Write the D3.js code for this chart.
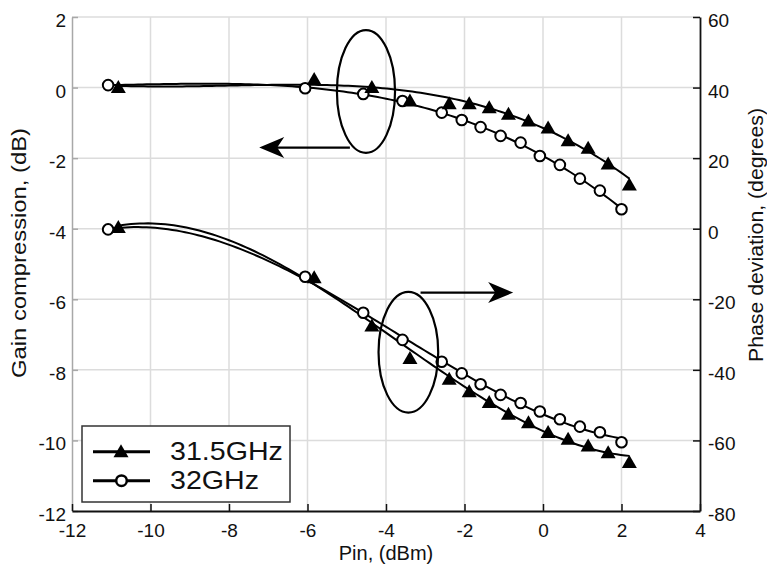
<!DOCTYPE html>
<html>
<head>
<meta charset="utf-8">
<script src="https://cdn.jsdelivr.net/npm/d3@7/dist/d3.min.js"></script>
<style>
  html, body { margin: 0; padding: 0; background: #fff; }
  svg { display: block; font-family: "Liberation Sans", Arial, sans-serif; }
</style>
</head>
<body>
<svg id="chart" width="767" height="566"></svg>
<script>
// Input power sweep (dBm) and measured responses
const pin315 = [-10.82, -5.83, -4.36, -3.39, -2.39, -1.88, -1.37, -0.88, -0.37, 0.13, 0.64, 1.15, 1.66, 2.2];
const gain315 = [0.03, 0.26, 0.03, -0.35, -0.43, -0.43, -0.54, -0.73, -0.92, -1.12, -1.48, -1.69, -2.14, -2.73];
const phase315 = [0.6, -13.6, -27.3, -36.5, -42.4, -45.9, -49.0, -52.3, -54.7, -57.5, -59.4, -61.3, -63.2, -66.0];

const pin32 = [-11.08, -6.06, -4.58, -3.58, -2.58, -2.07, -1.59, -1.08, -0.57, -0.08, 0.43, 0.94, 1.45, 2.0];
const gain32 = [0.07, -0.02, -0.18, -0.38, -0.71, -0.92, -1.12, -1.37, -1.56, -1.94, -2.19, -2.58, -2.92, -3.45];
const phase32 = [-0.2, -13.6, -23.8, -31.5, -37.7, -41.0, -44.1, -47.1, -49.4, -51.8, -54.0, -56.1, -57.7, -60.5];

const xTicks = [-12, -10, -8, -6, -4, -2, 0, 2, 4];
const gainTicks = [-12, -10, -8, -6, -4, -2, 0, 2];
const phaseTicks = [-80, -60, -40, -20, 0, 20, 40, 60];
const seriesNames = ["31.5GHz", "32GHz"];

// Annotation ellipses [x center, y center, x radius, y radius] and arrows [x from, x to, y]
const gainEllipse = [-4.51, -0.11, 0.74, 1.74];
const phaseEllipse = [-3.43, -35.0, 0.76, 17.1];
const gainArrow = [-4.92, -7.23, -1.70];
const phaseArrow = [-3.12, -0.76, -18.1];

const svg = d3.select("#chart");
const x = d3.scaleLinear().domain([-12, 4]).range([72, 700]);
const yL = d3.scaleLinear().domain([-12, 2]).range([511, 17]);
const yR = d3.scaleLinear().domain([-80, 60]).range([511, 17]);
const fmt = d => String(d);

// least-squares polynomial trend through a measured series
function polyfit(xs, ys, deg) {
  const mx = d3.mean(xs), sx = d3.deviation(xs);
  const n = deg + 1;
  const M = Array.from({length: n}, () => new Array(n + 1).fill(0));
  xs.forEach((xv, k) => {
    const u = (xv - mx) / sx;
    const pw = d3.range(n).map(p => Math.pow(u, p));
    for (let i = 0; i < n; i++) {
      for (let j = 0; j < n; j++) M[i][j] += pw[i] * pw[j];
      M[i][n] += pw[i] * ys[k];
    }
  });
  for (let c = 0; c < n; c++) {
    let piv = c;
    for (let r = c + 1; r < n; r++) if (Math.abs(M[r][c]) > Math.abs(M[piv][c])) piv = r;
    [M[c], M[piv]] = [M[piv], M[c]];
    for (let r = 0; r < n; r++) {
      if (r === c) continue;
      const f = M[r][c] / M[c][c];
      for (let j = c; j <= n; j++) M[r][j] -= f * M[c][j];
    }
  }
  const coef = d3.range(n).map(i => M[i][n] / M[i][i]);
  return xv => {
    const u = (xv - mx) / sx;
    return coef.reduce((s, cf, p) => s + cf * Math.pow(u, p), 0);
  };
}

// grid
const grid = svg.append("g").attr("stroke", "#dcdcdc").attr("stroke-width", 1.5);
grid.selectAll("line.v").data(xTicks.filter(d => d > -12 && d < 4)).join("line")
  .attr("x1", d => x(d)).attr("x2", d => x(d)).attr("y1", yL(2)).attr("y2", yL(-12));
grid.selectAll("line.h").data(gainTicks.filter(d => d > -12)).join("line")
  .attr("x1", x(-12)).attr("x2", x(4)).attr("y1", d => yL(d)).attr("y2", d => yL(d));

// left axis (gray)
const gLeft = svg.append("g").attr("transform", `translate(${x(-12)},0)`)
  .call(d3.axisLeft(yL).tickValues(gainTicks).tickSizeInner(-6).tickSizeOuter(0).tickPadding(6).tickFormat(fmt));
gLeft.select(".domain").attr("stroke", "#a8a8a8").attr("stroke-width", 1.5);
gLeft.selectAll(".tick line").attr("stroke", "#a8a8a8").attr("stroke-width", 1.5);
gLeft.selectAll(".tick text").attr("font-size", 19).attr("fill", "#111").attr("dy", "0.5em")
  .attr("font-family", "Liberation Sans, Arial, sans-serif");

// bottom axis
const gBottom = svg.append("g").attr("transform", `translate(0,${yL(-12)})`)
  .call(d3.axisBottom(x).tickValues(xTicks).tickSizeInner(-7).tickSizeOuter(0).tickPadding(13).tickFormat(fmt));
gBottom.select(".domain").attr("stroke", "#111").attr("stroke-width", 1.8);
gBottom.selectAll(".tick line").attr("stroke", "#111").attr("stroke-width", 1.5);
gBottom.selectAll(".tick text").attr("font-size", 19).attr("fill", "#111")
  .attr("font-family", "Liberation Sans, Arial, sans-serif");

// right axis
const gRight = svg.append("g").attr("transform", `translate(${x(4)},0)`)
  .call(d3.axisRight(yR).tickValues(phaseTicks).tickSizeInner(-7).tickSizeOuter(0).tickPadding(8).tickFormat(fmt));
gRight.select(".domain").attr("stroke", "#111").attr("stroke-width", 1.8);
gRight.selectAll(".tick line").attr("stroke", "#111").attr("stroke-width", 1.5);
gRight.selectAll(".tick text").attr("font-size", 19).attr("fill", "#111").attr("dy", "0.5em")
  .attr("font-family", "Liberation Sans, Arial, sans-serif");

// axis titles
svg.append("text").attr("x", (x(-12) + x(4)) / 2).attr("y", 560).attr("text-anchor", "middle")
  .attr("font-size", 20).attr("fill", "#111").text("Pin, (dBm)");
svg.append("text").attr("transform", "translate(26,253) rotate(-90)").attr("text-anchor", "middle")
  .attr("font-size", 20).attr("fill", "#111")
  .attr("textLength", 250).attr("lengthAdjust", "spacingAndGlyphs").text("Gain compression, (dB)");
svg.append("text").attr("transform", "translate(763,235) rotate(-90)").attr("text-anchor", "middle")
  .attr("font-size", 20).attr("fill", "#111")
  .attr("textLength", 254).attr("lengthAdjust", "spacingAndGlyphs").text("Phase deviation, (degrees)");

// fitted trend curves
const curves = svg.append("g").attr("fill", "none").attr("stroke", "#000").attr("stroke-width", 2);
function trend(xs, ys, sc) {
  const f = polyfit(xs, ys, 3);
  const lo = d3.min(xs), hi = d3.max(xs);
  const pts = d3.range(0, 121).map(i => lo + (hi - lo) * i / 120);
  curves.append("path").attr("d", d3.line().x(d => x(d)).y(d => sc(f(d)))(pts));
}
trend(pin315, gain315, yL);
trend(pin32, gain32, yL);
trend(pin315, phase315, yR);
trend(pin32, phase32, yR);

// markers
const triPath = "M0,-6.5L7.5,6.5L-7.5,6.5Z";
function triangles(xs, ys, sc) {
  svg.append("g").selectAll("path").data(xs).join("path")
    .attr("d", triPath).attr("fill", "#000")
    .attr("transform", (d, i) => `translate(${x(d)},${sc(ys[i])})`);
}
function circles(xs, ys, sc) {
  svg.append("g").selectAll("circle").data(xs).join("circle")
    .attr("cx", d => x(d)).attr("cy", (d, i) => sc(ys[i])).attr("r", 5.3)
    .attr("fill", "#fff").attr("stroke", "#000").attr("stroke-width", 2);
}
circles(pin32, gain32, yL);
triangles(pin315, gain315, yL);
circles(pin32, phase32, yR);
triangles(pin315, phase315, yR);

// annotations
const ann = svg.append("g").attr("fill", "none").attr("stroke", "#000").attr("stroke-width", 2.2);
function ellipse(e, sc) {
  ann.append("ellipse").attr("cx", x(e[0])).attr("cy", sc(e[1]))
    .attr("rx", x(e[0] + e[2]) - x(e[0])).attr("ry", sc(e[1] - e[3]) - sc(e[1]));
}
ellipse(gainEllipse, yL);
ellipse(phaseEllipse, yR);

function arrow(a, sc) {
  const x0 = x(a[0]), x1 = x(a[1]), yy = sc(a[2]);
  const dir = Math.sign(x1 - x0);
  ann.append("line").attr("x1", x0).attr("y1", yy).attr("x2", x1 - dir * 14).attr("y2", yy);
  const head = d3.path();
  head.moveTo(x1, yy);
  head.lineTo(x1 - dir * 25, yy - 10.5);
  head.lineTo(x1 - dir * 18, yy);
  head.lineTo(x1 - dir * 25, yy + 10.5);
  head.closePath();
  svg.append("path").attr("d", head.toString()).attr("fill", "#000");
}
arrow(gainArrow, yL);
arrow(phaseArrow, yR);

// legend
const lg = svg.append("g");
lg.append("rect").attr("x", 82).attr("y", 426).attr("width", 208).attr("height", 76)
  .attr("fill", "#fff").attr("stroke", "#333").attr("stroke-width", 1.5);
const rows = [451.7, 480.7];
rows.forEach((ry, i) => {
  lg.append("line").attr("x1", 93).attr("x2", 150).attr("y1", ry).attr("y2", ry)
    .attr("stroke", "#000").attr("stroke-width", 3);
  if (i === 0) {
    lg.append("path").attr("d", triPath).attr("fill", "#000").attr("transform", `translate(121,${ry - 1})`);
  } else {
    lg.append("circle").attr("cx", 121.5).attr("cy", ry).attr("r", 5.3)
      .attr("fill", "#fff").attr("stroke", "#000").attr("stroke-width", 2.5);
  }
  lg.append("text").attr("transform", `translate(170,${ry + 8.5}) scale(1.1,1)`)
    .attr("font-size", 26).attr("fill", "#111").text(seriesNames[i]);
});
</script>
</body>
</html>
